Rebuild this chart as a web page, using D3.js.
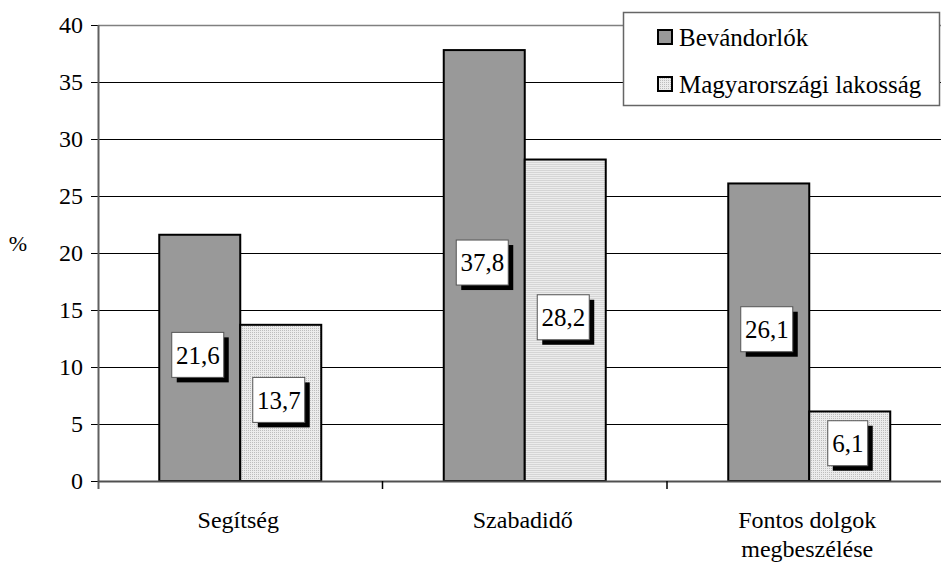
<!DOCTYPE html>
<html>
<head>
<meta charset="utf-8">
<script src="https://cdn.jsdelivr.net/npm/d3@7"></script>
<style>
  html, body { margin: 0; padding: 0; background: #fff; }
  text { font-family: "Liberation Serif", "Times New Roman", Times, serif !important; }
</style>
</head>
<body>
<svg id="chart" width="941" height="563" style="font-family: 'Liberation Serif', 'Times New Roman', serif;"></svg>
<script>
// adatok
const categories = [["Segítség"], ["Szabadidő"], ["Fontos dolgok", "megbeszélése"]];
const seriesNames = ["Bevándorlók", "Magyarországi lakosság"];
const bevandorlok = [21.6, 37.8, 26.1];
const lakossag = [13.7, 28.2, 6.1];
const yTicks = [0, 5, 10, 15, 20, 25, 30, 35, 40];

const FONT = "'Liberation Serif', 'Times New Roman', Times, serif";
const svg = d3.select("#chart");
const plotLeft = 98, plotRight = 951.5, plotTop = 25, plotBottom = 481;

const x0 = d3.scaleBand().domain(d3.range(categories.length)).range([plotLeft, plotRight]);
const groupW = 162;
const x1 = d3.scaleBand().domain([0, 1])
  .range([(x0.bandwidth() - groupW) / 2, (x0.bandwidth() + groupW) / 2]);
const y = d3.scaleLinear().domain([0, 40]).range([plotBottom, plotTop]);

// minta a világos oszlopokhoz
const defs = svg.append("defs");
const pat = defs.append("pattern").attr("id", "dots")
  .attr("width", 2).attr("height", 2).attr("patternUnits", "userSpaceOnUse");
pat.append("rect").attr("width", 2).attr("height", 2).attr("fill", "#ececec");
pat.append("rect").attr("width", 1).attr("height", 1).attr("fill", "#bdbdbd");

const fills = ["#999999", "url(#dots)"];

// rácsvonalak
svg.append("g").selectAll("line").data(yTicks.filter(t => t > 0 && t < 40)).join("line")
  .attr("x1", plotLeft).attr("x2", 941)
  .attr("y1", d => Math.round(y(d)) + 0.5).attr("y2", d => Math.round(y(d)) + 0.5)
  .attr("stroke", "#000").attr("stroke-width", 1);
svg.append("line").attr("x1", plotLeft).attr("x2", 941).attr("y1", plotTop + 0.5).attr("y2", plotTop + 0.5)
  .attr("stroke", "#808080").attr("stroke-width", 1.5);

// y tengely
const yAxis = svg.append("g").attr("transform", `translate(${plotLeft},0)`)
  .call(d3.axisLeft(y).tickValues(yTicks).tickSize(7).tickPadding(8));
yAxis.attr("font-family", null);
yAxis.select(".domain").remove();
yAxis.selectAll(".tick line").attr("stroke", "#000");
yAxis.selectAll(".tick text").attr("fill", "#000").attr("font-size", 24).attr("dy", "0.33em");
svg.append("line").attr("x1", plotLeft + 0.5).attr("x2", plotLeft + 0.5).attr("y1", plotTop).attr("y2", plotBottom + 8)
  .attr("stroke", "#606060").attr("stroke-width", 2);

svg.append("text").attr("x", 18).attr("y", 251).attr("font-size", 22)
  .attr("text-anchor", "middle").text("%");

// oszlopok
const data = categories.map((c, i) => [bevandorlok[i], lakossag[i]]);
const groups = svg.append("g").selectAll("g").data(data).join("g")
  .attr("transform", (d, i) => `translate(${x0(i)},0)`);

groups.selectAll("rect").data(d => d).join("rect")
  .attr("x", (d, j) => x1(j)).attr("width", x1.bandwidth())
  .attr("y", d => y(d)).attr("height", d => y(0) - y(d))
  .attr("fill", (d, j) => fills[j])
  .attr("stroke", "#000").attr("stroke-width", 2);

// x tengely
svg.append("line").attr("x1", plotLeft).attr("x2", 941).attr("y1", plotBottom + 0.5).attr("y2", plotBottom + 0.5)
  .attr("stroke", "#505050").attr("stroke-width", 2);
svg.append("g").selectAll("line").data(d3.range(1, categories.length)).join("line")
  .attr("x1", i => x0(i)).attr("x2", i => x0(i))
  .attr("y1", plotBottom).attr("y2", plotBottom + 8)
  .attr("stroke", "#000").attr("stroke-width", 1.5);

categories.forEach((lines, i) => {
  const cx = x0(i) + x0.bandwidth() / 2 - 2;
  lines.forEach((l, k) => svg.append("text").attr("x", cx).attr("y", 528 + k * 29)
    .attr("font-size", 24).attr("text-anchor", "middle").text(l));
});

// értékcímkék árnyékkal
const fmt = v => d3.format(".1f")(v).replace(".", ",");
groups.each(function (d, i) {
  const g = d3.select(this);
  d.forEach((v, j) => {
    const cx = x1(j) + x1.bandwidth() / 2 - 2;
    const cy = (y(v) + y(0)) / 2 - 3;
    const label = fmt(v);
    const w = label.length > 3 ? 52 : 40, h = 45;
    g.append("rect").attr("x", cx - w / 2 + 5).attr("y", cy - h / 2 + 5)
      .attr("width", w).attr("height", h).attr("fill", "#000");
    g.append("rect").attr("x", cx - w / 2).attr("y", cy - h / 2)
      .attr("width", w).attr("height", h).attr("fill", "#fff")
      .attr("stroke", "#555").attr("stroke-width", 1);
    g.append("text").attr("x", cx).attr("y", cy).attr("dy", "0.35em")
      .attr("font-size", 25).attr("text-anchor", "middle").text(label);
  });
});

// jelmagyarázat
const lg = svg.append("g");
lg.append("rect").attr("x", 623.5).attr("y", 12.5).attr("width", 316).attr("height", 93)
  .attr("fill", "#fff").attr("stroke", "#666").attr("stroke-width", 1.5);
seriesNames.forEach((s, j) => {
  const yy = 37 + j * 47;
  lg.append("rect").attr("x", 658).attr("y", yy - 7).attr("width", 14).attr("height", 14)
    .attr("fill", fills[j]).attr("stroke", "#000").attr("stroke-width", 2);
  lg.append("text").attr("x", 679).attr("y", yy).attr("dy", "0.35em")
    .attr("font-size", 25).text(s);
});

// betűtípus minden szövegre
svg.selectAll("text").attr("font-family", FONT).style("font-family", FONT);
</script>
</body>
</html>
